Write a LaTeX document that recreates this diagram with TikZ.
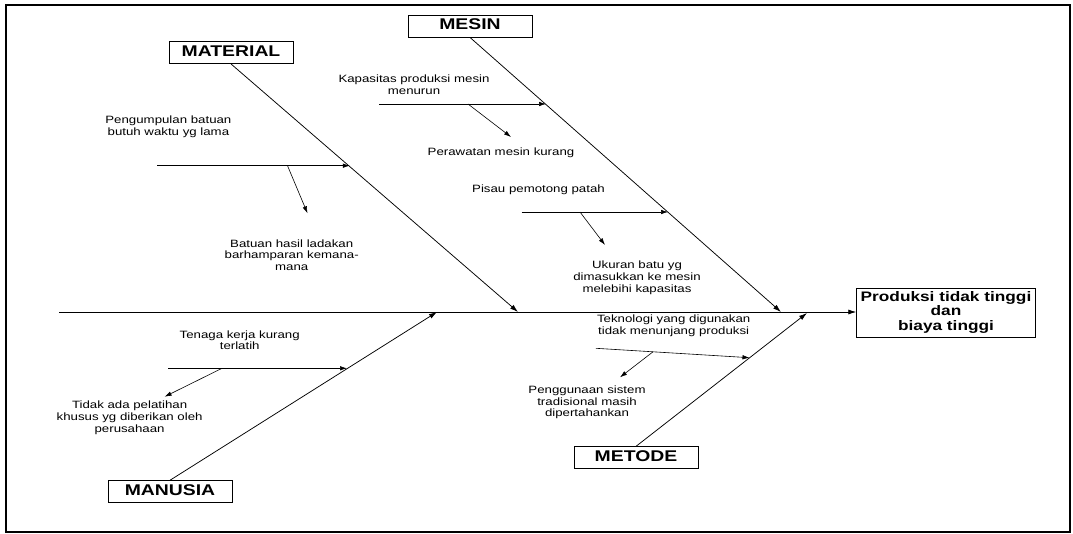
\documentclass[tikz,border=0pt]{standalone}
\usepackage{fontspec}
\setmainfont{Liberation Sans}
\usetikzlibrary{arrows.meta}

\newcommand{\stretchtxt}[1]{\scalebox{1.25}[1]{\begin{tabular}{@{}c@{}}#1\end{tabular}}}

\tikzset{
    catbox/.style={draw, line width=0.9pt, minimum width=124pt, minimum height=22pt, inner sep=0pt,
        font=\fontsize{15.5}{18}\selectfont\bfseries},
    cause/.style={inner sep=0pt, font=\fontsize{10.6}{11.7}\selectfont},
    bone/.style={line width=0.75pt, -{Latex[length=8pt,width=5pt]}},
    twig/.style={line width=0.6pt, -{Latex[length=7pt,width=4.5pt]}}
}

\begin{document}
\begin{tikzpicture}[x=1pt, y=-1pt]

    \useasboundingbox (0,0) rectangle (1073,534);
    \draw[line width=1.6pt] (6,5) rectangle (1070,532);

    % heads of the bones
    \node[catbox] (material) at (231,52.5) {\stretchtxt{MATERIAL}};
    \node[catbox] (mesin) at (470,26) {\stretchtxt{MESIN}};
    \node[catbox] (manusia) at (170,491.7) {\stretchtxt{MANUSIA}};
    \node[catbox] (metode) at (636,457.8) {\stretchtxt{METODE}};
    \node[draw, line width=0.9pt, minimum width=178.5pt, minimum height=48.5pt, inner sep=0pt,
        font=\fontsize{13.8}{14.7}\selectfont\bfseries] (akibat) at (946,313)
        {\stretchtxt{Produksi tidak tinggi\\dan\\biaya tinggi}};

    \coordinate (spineStart) at (59,312);
    \coordinate (matTip) at (518,312);
    \coordinate (mesTip) at (781,312);
    \coordinate (manTip) at (437,312);
    \coordinate (metTip) at (807,313);

    \draw[bone] (spineStart) -- (akibat.west |- spineStart);
    \draw[bone] (material.south) -- (matTip);
    \draw[bone] (mesin.south) -- (mesTip);
    \draw[bone] (manusia.north) -- (manTip);
    \draw[bone] (metode.north) -- (metTip);

    % material
    \coordinate (matA0) at (157,165.7);
    \coordinate (matA) at (349.8,165.7);
    \coordinate (matB0) at (287.5,165.7);
    \coordinate (matB) at (307.5,213.3);
    \draw[twig] (matA0) -- (matA);
    \draw[twig] (matB0) -- (matB);
    \node[cause] (pengumpulan) at (168.4,127.5) {\stretchtxt{Pengumpulan batuan\\butuh waktu yg lama}};
    \node[cause] (batuan) at (291.7,256.5) {\stretchtxt{Batuan hasil ladakan\\barhamparan kemana-\\mana}};

    % mesin
    \coordinate (mesA0) at (379,104);
    \coordinate (mesA) at (546,104);
    \coordinate (mesB0) at (468,104);
    \coordinate (mesB) at (511,137);
    \coordinate (mesC0) at (521.7,212);
    \coordinate (mesC) at (668,212);
    \coordinate (mesD0) at (580,212);
    \coordinate (mesD) at (605,245);
    \draw[twig] (mesA0) -- (mesA);
    \draw[twig] (mesB0) -- (mesB);
    \draw[twig] (mesC0) -- (mesC);
    \draw[twig] (mesD0) -- (mesD);
    \node[cause] (kapasitas) at (414,86) {\stretchtxt{Kapasitas produksi mesin\\menurun}};
    \node[cause] (perawatan) at (501,152.7) {\stretchtxt{Perawatan mesin kurang}};
    \node[cause] (pisau) at (538.5,190) {\stretchtxt{Pisau pemotong patah}};
    \node[cause] (ukuran) at (637,278) {\stretchtxt{Ukuran batu yg\\dimasukkan ke mesin\\melebihi kapasitas}};

    % manusia
    \coordinate (manA0) at (168,368.3);
    \coordinate (manA) at (347,368.3);
    \coordinate (manB0) at (222,368.3);
    \coordinate (manB) at (164.6,396.7);
    \draw[twig] (manA0) -- (manA);
    \draw[twig] (manB0) -- (manB);
    \node[cause] (tenaga) at (239.7,341.7) {\stretchtxt{Tenaga kerja kurang\\terlatih}};
    \node[cause] (pelatihan) at (129.6,418.3) {\stretchtxt{Tidak ada pelatihan\\khusus yg diberikan oleh\\perusahaan}};

    % metode
    \coordinate (metA0) at (595.8,348.3);
    \coordinate (metA) at (749.5,357.7);
    \coordinate (metB0) at (653,351.8);
    \coordinate (metB) at (620,377.3);
    \draw[twig] (metA0) -- (metA);
    \draw[twig] (metB0) -- (metB);
    \node[cause] (teknologi) at (673.7,326) {\stretchtxt{Teknologi yang digunakan\\tidak menunjang produksi}};
    \node[cause] (tradisional) at (587,402.7) {\stretchtxt{Penggunaan sistem\\tradisional masih\\dipertahankan}};

\end{tikzpicture}
\end{document}
